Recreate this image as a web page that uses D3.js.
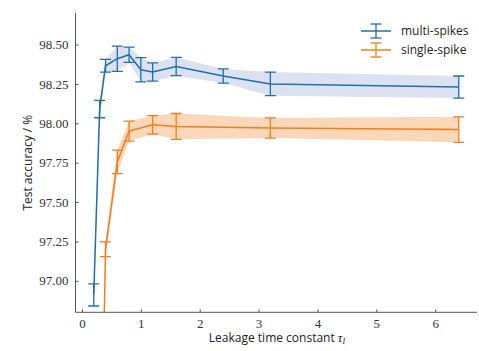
<!DOCTYPE html>
<html><head><meta charset="utf-8">
<script src="https://cdn.jsdelivr.net/npm/d3@7"></script>
<style>body{margin:0;background:#fff}svg{display:block}</style>
</head><body>
<script>
const multiX = [0.2, 0.3, 0.4, 0.6, 0.8, 1.0, 1.2, 1.6, 2.4, 3.2, 6.4];
const multiY = [96.91, 98.09, 98.365, 98.41, 98.435, 98.34, 98.325, 98.36, 98.30, 98.25, 98.23];
const multiErr = [0.07, 0.055, 0.04, 0.08, 0.048, 0.077, 0.058, 0.058, 0.045, 0.075, 0.07];
const singleX = [0.3, 0.4, 0.6, 0.8, 1.2, 1.6, 3.2, 6.4];
const singleY = [95.2, 97.2, 97.755, 97.95, 97.99, 97.98, 97.97, 97.96];
const singleErr = [0.05, 0.047, 0.075, 0.063, 0.059, 0.082, 0.064, 0.081];
const xTicks = [0, 1, 2, 3, 4, 5, 6];
const yTicks = [97.00, 97.25, 97.50, 97.75, 98.00, 98.25, 98.50];
const seriesNames = ["multi-spikes", "single-spike"];
const colors = ["#1f6fb0", "#f07f1e"];
const bands = ["#d7deef", "#fad3b1"];

const W = 479, H = 351;
const m = {l: 75.5, r: 2, t: 13, b: 38.7};
const svg = d3.select("body").append("svg").attr("width", W).attr("height", H);
const x = d3.scaleLinear().domain([-0.11, 6.71]).range([m.l, W - m.r]);
const y = d3.scaleLinear().domain([96.8, 98.7]).range([H - m.b, m.t]);

svg.append("defs").append("clipPath").attr("id", "clip")
  .append("rect").attr("x", m.l).attr("y", m.t).attr("width", W - m.r - m.l).attr("height", H - m.b - m.t);

const plot = svg.append("g").attr("clip-path", "url(#clip)");
const series = [
  {xs: multiX, ys: multiY, es: multiErr},
  {xs: singleX, ys: singleY, es: singleErr}
];
series.forEach((s, i) => {
  const pts = s.xs.map((v, j) => ({x: v, y: s.ys[j], e: s.es[j]}));
  plot.append("path").datum(pts)
    .attr("d", d3.area().x(d => x(d.x)).y0(d => y(d.y - d.e)).y1(d => y(d.y + d.e)))
    .attr("fill", bands[i]).attr("opacity", 0.9);
});
series.forEach((s, i) => {
  const pts = s.xs.map((v, j) => ({x: v, y: s.ys[j], e: s.es[j]}));
  plot.append("path").datum(pts)
    .attr("d", d3.line().x(d => x(d.x)).y(d => y(d.y)))
    .attr("fill", "none").attr("stroke", colors[i]).attr("stroke-width", 1.5);
  const g = plot.append("g").attr("stroke", colors[i]).attr("stroke-width", 1.3);
  pts.forEach(d => {
    const cx = x(d.x);
    g.append("line").attr("x1", cx).attr("x2", cx).attr("y1", y(d.y - d.e)).attr("y2", y(d.y + d.e));
    g.append("line").attr("x1", cx - 5.5).attr("x2", cx + 5.5).attr("y1", y(d.y - d.e)).attr("y2", y(d.y - d.e));
    g.append("line").attr("x1", cx - 5.5).attr("x2", cx + 5.5).attr("y1", y(d.y + d.e)).attr("y2", y(d.y + d.e));
  });
});

// axes
const xAxis = svg.append("g").attr("transform", `translate(0,${H - m.b})`)
  .call(d3.axisBottom(x).tickValues(xTicks).tickSize(-3).tickPadding(6).tickFormat(d3.format("d")));
const yAxis = svg.append("g").attr("transform", `translate(${m.l},0)`)
  .call(d3.axisLeft(y).tickValues(yTicks).tickSize(-3).tickPadding(7).tickFormat(d3.format(".2f")));
[xAxis, yAxis].forEach(a => {
  a.select(".domain").attr("stroke", "#555").attr("stroke-width", 1);
  a.selectAll(".tick line").attr("stroke", "#555");
  a.selectAll(".tick text").attr("font-family", "'Liberation Serif', serif").attr("font-size", 13).attr("fill", "#333");
});
xAxis.select(".domain").attr("d", `M${m.l},0H${W - m.r}`);
yAxis.select(".domain").attr("d", `M0,${m.t}V${H - m.b}`);

// labels
const lab = svg.append("text").attr("x", 277).attr("y", 342)
  .attr("text-anchor", "middle").attr("font-family", "'Open Sans', sans-serif").attr("font-size", 12).attr("fill", "#222");
lab.append("tspan").text("Leakage time constant ");
lab.append("tspan").attr("font-family", "'Liberation Serif', serif").attr("font-style", "italic").attr("font-size", 13).text("τ");
lab.append("tspan").attr("font-family", "'Liberation Serif', serif").attr("font-style", "italic").attr("font-size", 8).attr("dy", 2).text("I");
svg.append("text").attr("transform", `translate(32,${(m.t + H - m.b) / 2}) rotate(-90)`)
  .attr("text-anchor", "middle").attr("font-family", "'Open Sans', sans-serif").attr("font-size", 12).attr("fill", "#222")
  .text("Test accuracy / %");

// legend
seriesNames.forEach((n, i) => {
  const ly = 31 + i * 19;
  const g = svg.append("g").attr("stroke", colors[i]).attr("stroke-width", 1.3);
  g.append("line").attr("x1", 361).attr("x2", 391).attr("y1", ly).attr("y2", ly).attr("stroke-width", 1.5);
  g.append("line").attr("x1", 376).attr("x2", 376).attr("y1", ly - 7).attr("y2", ly + 7);
  g.append("line").attr("x1", 370.5).attr("x2", 381.5).attr("y1", ly - 7).attr("y2", ly - 7);
  g.append("line").attr("x1", 370.5).attr("x2", 381.5).attr("y1", ly + 7).attr("y2", ly + 7);
  svg.append("text").attr("x", 401).attr("y", ly + 4).attr("font-family", "'Open Sans', sans-serif")
    .attr("font-size", 12).attr("fill", "#222").text(n);
});
</script>
</body></html>
